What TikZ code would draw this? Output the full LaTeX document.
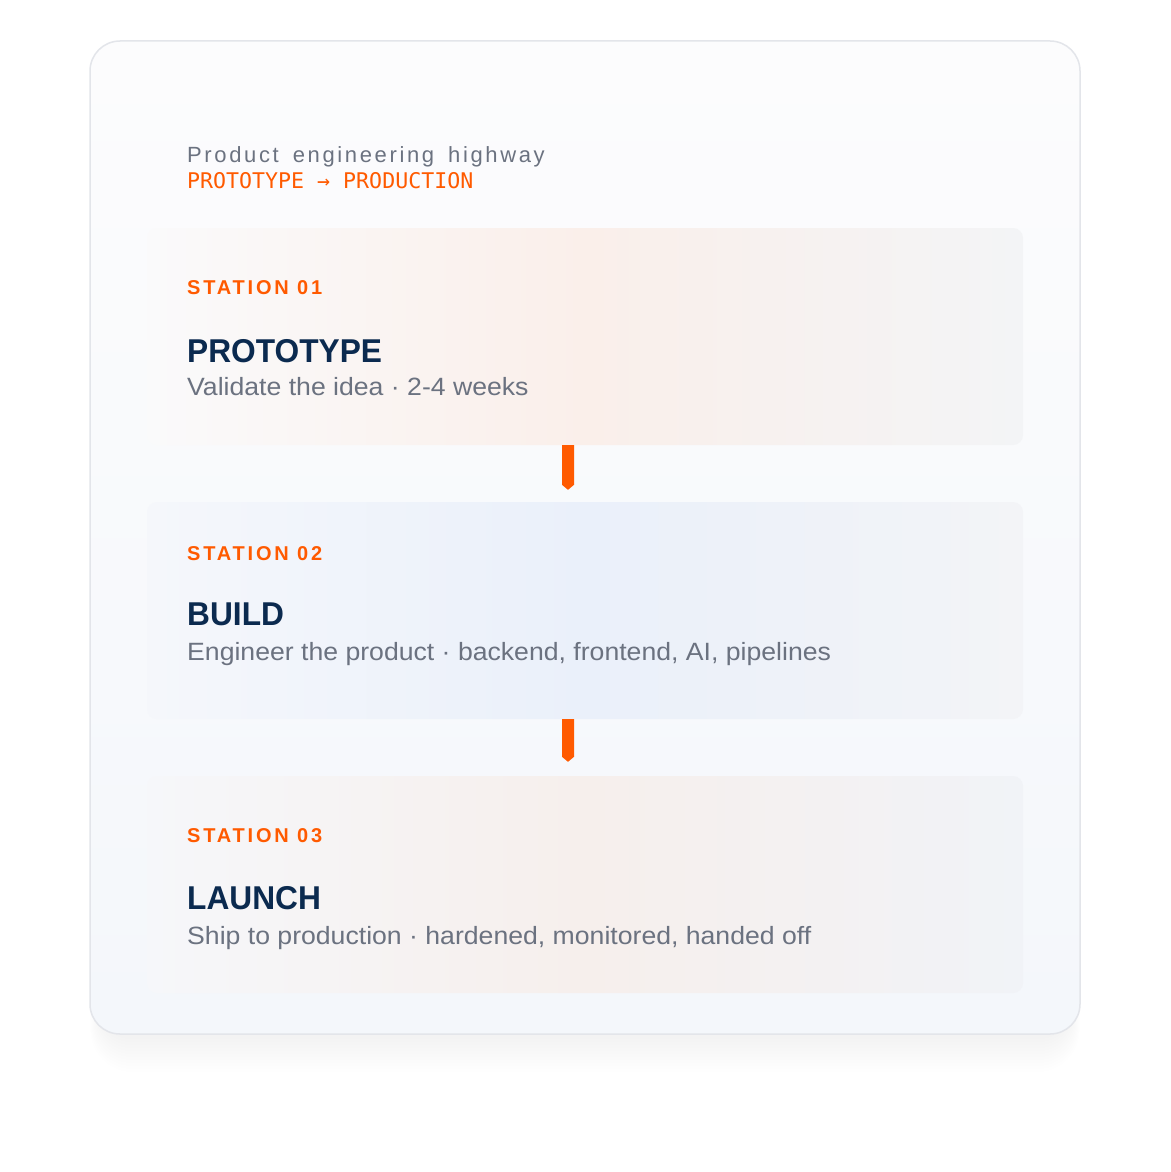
\documentclass[tikz,border=0pt]{standalone}
\usepackage{fontspec}
\setmainfont{Liberation Sans}
\newfontfamily\spacedfont[LetterSpace=12,WordSpace=1.6]{Liberation Sans}
\newfontfamily\stationfont[LetterSpace=14]{Liberation Sans}
\newfontfamily\namefont[FakeStretch=0.96]{Liberation Sans}
\newfontfamily\descfont[FakeStretch=1.065]{Liberation Sans}
\newfontfamily\codefont{DejaVu Sans Mono}
\usetikzlibrary{calc}
\definecolor{orangeA}{HTML}{FF5A00}
\definecolor{navyA}{HTML}{0B2A4F}
\definecolor{grayT}{HTML}{6B7280}
\definecolor{cardTop}{HTML}{FCFCFD}
\definecolor{cardBot}{HTML}{F4F7FB}
\definecolor{cardLine}{HTML}{E3E5EA}
\definecolor{bOneL}{HTML}{FAFAFB}
\definecolor{bOneM}{HTML}{FAEFEA}
\definecolor{bOneR}{HTML}{F3F4F6}
\definecolor{bTwoL}{HTML}{F5F7FB}
\definecolor{bTwoM}{HTML}{EAF0FA}
\definecolor{bTwoR}{HTML}{F3F4F7}
\definecolor{bThrL}{HTML}{F6F7FA}
\definecolor{bThrM}{HTML}{F6EFEC}
\definecolor{bThrR}{HTML}{F1F3F7}
\tikzset{
  card/.style={rounded corners=30pt, draw=cardLine, line width=1.5pt, top color=cardTop, bottom color=cardBot, minimum width=990pt, minimum height=993pt, inner sep=0pt},
  stationbox/.style={rounded corners=10pt, minimum width=876pt, minimum height=217pt, inner sep=0pt},
  title/.style={anchor=base west, inner sep=0pt, text=grayT, font=\spacedfont\fontsize{22}{26}\selectfont},
  subtitle/.style={anchor=base west, inner sep=0pt, text=orangeA, font=\codefont\fontsize{21.6}{25}\selectfont},
  stationlbl/.style={anchor=base west, inner sep=0pt, text=orangeA, font=\stationfont\bfseries\fontsize{20}{24}\selectfont},
  stagename/.style={anchor=base west, inner sep=0pt, text=navyA, font=\namefont\bfseries\fontsize{33}{38}\selectfont},
  stagedesc/.style={anchor=base west, inner sep=0pt, text=grayT, font=\descfont\fontsize{25}{29}\selectfont},
  link/.style={fill=orangeA}
}
\begin{document}
\begin{tikzpicture}[x=1pt,y=-1pt]
\useasboundingbox (0,0) rectangle (1170,1172);
\fill[white] (0,0) rectangle (1170,1172);
% soft wide shadow
\foreach \i in {1,...,36}{
  \fill[black, opacity=0.0018, rounded corners={(30+2*\i)*1pt}]
    ({90-1.5*\i},{110-0.5*\i}) rectangle ({1080+1.5*\i},{1040+3*\i});
}
% tighter shadow below the card
\foreach \i in {1,...,12}{
  \fill[black, opacity=0.0035, rounded corners={(30+\i)*1pt}]
    ({100-0.8*\i},{600}) rectangle ({1070+0.8*\i},{1036+3*\i});
}
% card
\node[card] (card) at (585,537.5) {};
% header
\node[title] (head) at (187,162) {Product engineering highway};
\node[subtitle] (sub) at (187,188) {PROTOTYPE → PRODUCTION};
% station boxes
\node[stationbox, left color=bOneL, right color=bOneR, middle color=bOneM] (b1) at (585,336.5) {};
\node[stationbox, left color=bTwoL, right color=bTwoR, middle color=bTwoM] (b2) at (585,610.5) {};
\node[stationbox, left color=bThrL, right color=bThrR, middle color=bThrM] (b3) at (585,884.5) {};
% connectors
\fill[link] ($(b1.south)+(-23,0)$) -- ($(b1.south)+(-11,0)$) -- ($(b2.north)+(-11,-17)$) -- ($(b2.north)+(-17,-12)$) -- ($(b2.north)+(-23,-17)$) -- cycle;
\fill[link] ($(b2.south)+(-23,0)$) -- ($(b2.south)+(-11,0)$) -- ($(b3.north)+(-11,-19)$) -- ($(b3.north)+(-17,-14)$) -- ($(b3.north)+(-23,-19)$) -- cycle;
% station 1
\node[stationlbl] (s1) at (187,294) {STATION 01};
\node[stagename] (n1) at (187,362) {PROTOTYPE};
\node[stagedesc] (d1) at (187,395) {Validate the idea · 2-4 weeks};
% station 2
\node[stationlbl] (s2) at (187,560) {STATION 02};
\node[stagename] (n2) at (187,625) {BUILD};
\node[stagedesc] (d2) at (187,660) {Engineer the product · backend, frontend, AI, pipelines};
% station 3
\node[stationlbl] (s3) at (187,842) {STATION 03};
\node[stagename] (n3) at (187,909) {LAUNCH};
\node[stagedesc] (d3) at (187,944) {Ship to production · hardened, monitored, handed off};
\end{tikzpicture}
\end{document}
